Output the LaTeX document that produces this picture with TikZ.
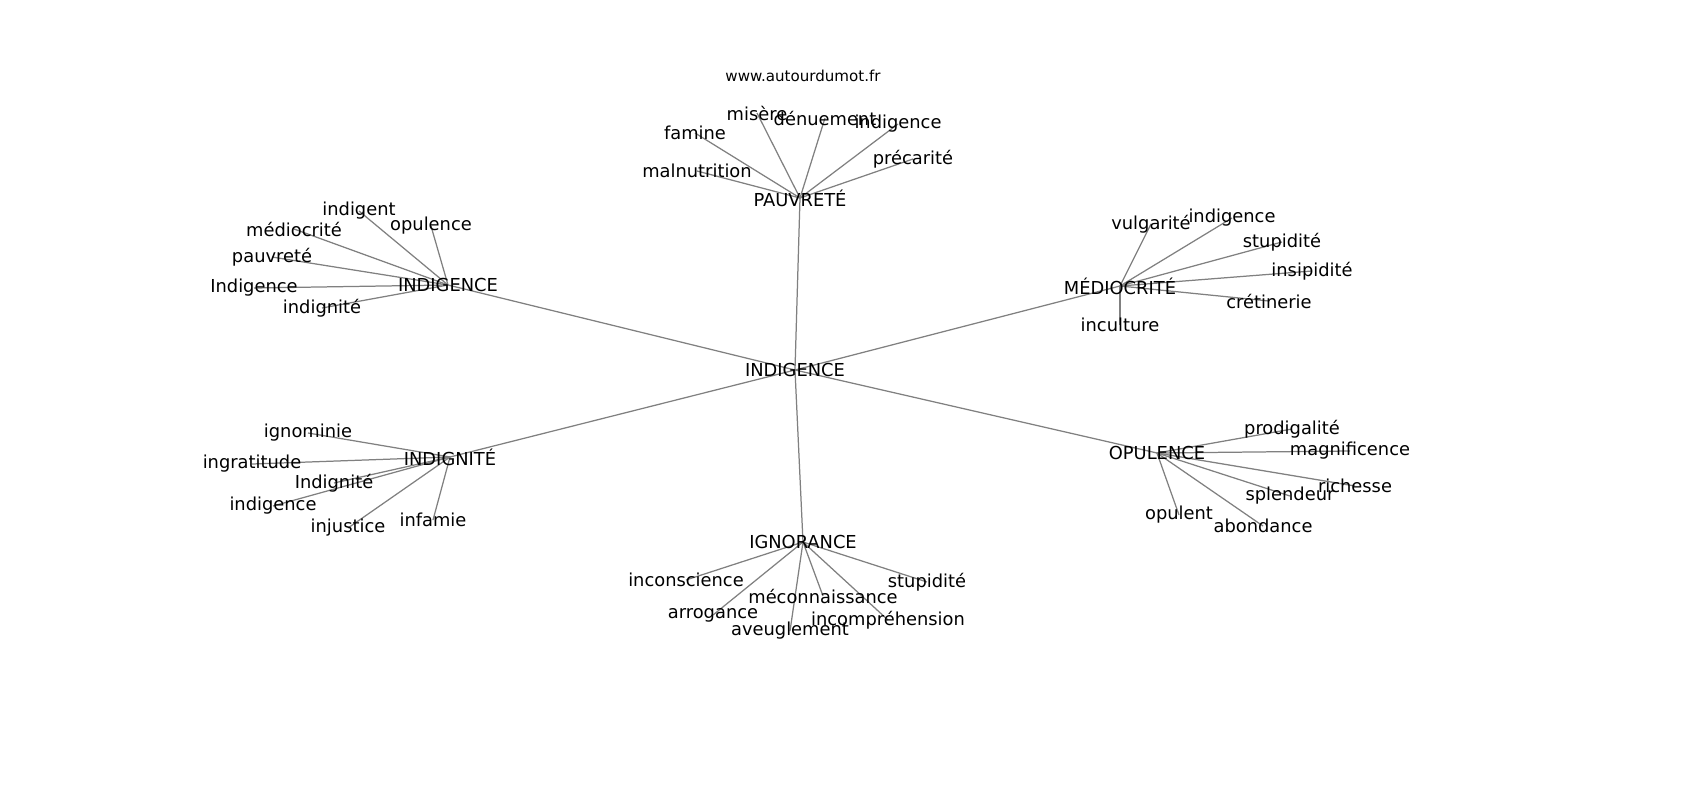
\documentclass[tikz,border=0pt]{standalone}
\usepackage{fontspec}
\setmainfont{DejaVu Sans}
\usetikzlibrary{backgrounds}
\tikzset{word/.style={font=\fontsize{12.9}{15}\selectfont, inner sep=0pt},
  link/.style={draw=gray, line width=0.9pt}}
\begin{document}
\begin{tikzpicture}[x=0.254mm, y=-0.254mm]
\useasboundingbox (0,0) rectangle (1700,800);
\node[font=\fontsize{10.9}{13}\selectfont, inner sep=0pt] (site) at (803,76) {www.autourdumot.fr};
\node[word] (root) at (795,370) {INDIGENCE};
% the six hubs round the root
\foreach \n/\t/\x/\y in {pauv/PAUVRETÉ/800/198, indi/INDIGENCE/448/285, medi/MÉDIOCRITÉ/1120/286,
  indn/INDIGNITÉ/450/457, opul/OPULENCE/1157/453, igno/IGNORANCE/803/542}
{
\node[word] (\n) at (\x,\y) {\t};
\begin{scope}[on background layer]
\draw[link] (root.center) -- (\n.center);
\end{scope}
}
% the leaves of each hub
\foreach \n/\t/\x/\y/\h in {
  malnutrition/malnutrition/697/171/pauv, famine/famine/695/133/pauv, misere/misère/757/113/pauv,
  denuement/dénuement/825/118/pauv, indigP/indigence/898/124/pauv, precarite/précarité/913/159/pauv,
  indigent/indigent/359/211/indi, opulence/opulence/431/226/indi, mediocrite/médiocrité/294/229/indi,
  pauvrete/pauvreté/272/257/indi, IndigI/Indigence/254/288/indi, indignite/indignité/322/308/indi,
  vulgarite/vulgarité/1151/224/medi, indigM/indigence/1232/218/medi, stupM/stupidité/1282/242/medi,
  insipidite/insipidité/1312/271/medi, cretinerie/crétinerie/1269/301/medi, inculture/inculture/1120/325/medi,
  ignominie/ignominie/308/433/indn, ingratitude/ingratitude/252/464/indn, IndignN/Indignité/334/483/indn,
  indigN/indigence/273/506/indn, injustice/injustice/348/528/indn, infamie/infamie/433/520/indn,
  prodigalite/prodigalité/1292/429/opul, magnificence/magnificence/1350/451/opul, richesse/richesse/1355/486/opul,
  splendeur/splendeur/1290/496/opul, opulent/opulent/1179/515/opul, abondance/abondance/1263/526/opul,
  inconscience/inconscience/686/580/igno, stupG/stupidité/927/582/igno, meconnaissance/méconnaissance/823/596/igno,
  arrogance/arrogance/713/615/igno, incomprehension/incompréhension/888/620/igno, aveuglement/aveuglement/790/631/igno}
{
\node[word] (\n) at (\x,\y) {\t};
\begin{scope}[on background layer]
\draw[link] (\h.center) -- (\n.center);
\end{scope}
}
\end{tikzpicture}
\end{document}
